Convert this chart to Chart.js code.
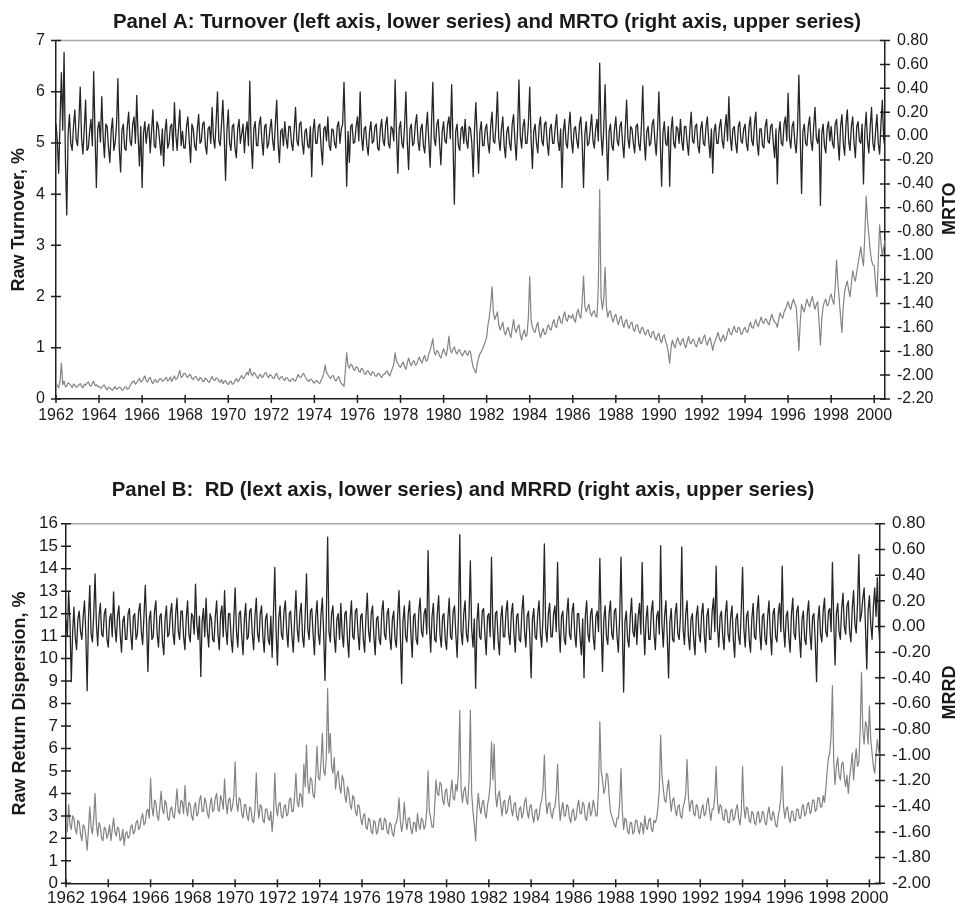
<!DOCTYPE html>
<html><head><meta charset="utf-8">
<script src="https://cdn.jsdelivr.net/npm/chart.js@4.4.1/dist/chart.umd.min.js"></script>
<style>
html,body{margin:0;padding:0;background:#fff;overflow:hidden;width:956px;height:908px;position:relative;}
canvas{position:absolute;}
#cA{top:0;left:0;} #cB{top:450px;left:-34px;}
</style></head><body>
<canvas id="cA" width="974" height="440"></canvas>
<canvas id="cB" width="994" height="458"></canvas>
<script>
// ---- data (16 readings per year, 1962.0 .. 2000.5) ----
const START_YEAR = 1962;
const PER_YEAR = 16;
const yearTicks = [1962,1964,1966,1968,1970,1972,1974,1976,1978,1980,1982,1984,1986,1988,1990,1992,1994,1996,1998,2000];

// Panel A upper series: MRTO (right axis)
const mrto = [
 0.10,-0.04,-0.31,0.12,0.53,0.05,0.70,-0.20,-0.66,0.02,0.18,-0.06,-0.12,0.08,0.22,-0.03,
 -0.08,0.12,0.41,-0.02,-0.15,0.06,0.30,-0.12,-0.10,0.04,0.14,-0.08,0.54,0.02,-0.43,0.06,
 0.12,-0.05,0.33,0.00,-0.18,0.10,0.08,-0.10,-0.22,0.04,0.15,-0.12,-0.05,0.10,0.48,-0.10,
 -0.30,0.05,0.10,-0.10,-0.12,0.08,0.20,-0.04,-0.08,0.10,0.16,-0.06,0.34,0.00,-0.25,0.08,
 -0.43,0.02,0.12,-0.06,0.05,0.10,-0.14,0.04,0.22,-0.08,-0.10,0.12,0.08,-0.04,-0.16,0.06,
 -0.25,0.04,0.14,-0.10,-0.06,0.08,0.10,-0.12,0.28,0.02,-0.12,0.06,0.22,-0.08,0.04,-0.10,
 -0.10,0.08,0.16,-0.04,-0.22,0.10,0.06,-0.08,-0.12,0.06,0.18,-0.06,-0.04,0.10,0.12,-0.08,
 -0.15,0.06,0.08,-0.06,0.24,-0.02,-0.10,0.12,0.37,-0.04,-0.08,0.10,0.30,0.00,-0.37,0.04,
 0.22,-0.06,-0.12,0.08,0.10,-0.10,-0.18,0.06,0.14,-0.06,0.02,0.10,-0.14,0.04,0.12,-0.08,
 0.46,-0.04,-0.27,0.06,0.12,-0.08,-0.08,0.10,0.16,-0.04,-0.16,0.08,0.10,-0.10,-0.06,0.06,
 0.14,-0.04,-0.12,0.10,0.30,-0.06,-0.22,0.04,0.06,-0.08,0.12,-0.02,-0.10,0.08,0.08,-0.06,
 -0.12,0.06,0.24,-0.04,-0.08,0.10,0.12,-0.06,-0.15,0.04,0.06,-0.08,-0.10,0.08,-0.34,0.04,
 0.14,-0.06,-0.06,0.08,0.10,-0.10,-0.24,0.06,0.08,-0.04,0.16,-0.08,-0.12,0.06,0.05,-0.06,
 -0.10,0.08,0.12,-0.06,0.06,0.10,0.45,0.02,-0.42,0.04,-0.22,0.08,0.10,-0.06,-0.05,0.08,
 0.16,-0.04,0.37,0.00,-0.12,0.06,0.08,-0.08,-0.16,0.04,0.12,-0.06,-0.04,0.08,0.10,-0.10,
 -0.12,0.06,0.14,-0.04,-0.08,0.10,0.16,-0.06,-0.10,0.08,0.06,-0.04,0.47,0.02,-0.31,0.06,
 0.12,-0.06,-0.10,0.08,0.37,-0.04,-0.28,0.06,0.10,-0.08,-0.06,0.10,0.18,-0.04,-0.12,0.06,
 0.10,-0.08,-0.14,0.06,0.20,-0.04,-0.26,0.08,0.45,-0.02,-0.08,0.10,0.14,-0.06,-0.24,0.04,
 0.12,-0.04,-0.06,0.10,0.16,-0.02,0.43,-0.06,-0.57,0.04,0.10,-0.08,-0.12,0.06,0.08,-0.06,
 0.14,-0.04,-0.10,0.08,0.06,-0.06,-0.34,0.06,0.28,-0.02,-0.31,0.04,0.12,-0.08,-0.08,0.06,
 0.10,-0.06,-0.14,0.08,0.20,-0.04,-0.06,0.10,0.37,-0.02,-0.12,0.06,0.16,-0.08,-0.18,0.04,
 0.08,-0.06,-0.12,0.10,0.18,-0.04,-0.20,0.06,0.47,0.00,-0.10,0.08,0.14,-0.06,-0.06,0.10,
 0.41,-0.02,-0.27,0.04,0.10,-0.06,-0.14,0.08,0.16,-0.04,-0.08,0.10,0.12,-0.06,-0.16,0.06,
 0.10,-0.06,-0.06,0.08,0.18,-0.04,-0.12,0.06,-0.43,0.04,0.14,-0.06,-0.10,0.08,0.20,-0.04,
 -0.14,0.06,0.08,-0.04,-0.10,0.10,0.16,-0.06,-0.43,0.02,0.12,-0.08,-0.06,0.06,0.18,-0.04,
 -0.10,0.06,0.14,-0.04,0.61,0.02,-0.16,0.06,0.43,0.00,-0.37,0.04,0.10,-0.08,-0.12,0.06,
 0.16,-0.04,-0.08,0.08,0.12,-0.06,-0.18,0.06,0.30,-0.02,-0.10,0.08,0.06,-0.06,-0.14,0.08,
 0.10,-0.06,-0.12,0.08,0.42,-0.02,-0.20,0.04,0.08,-0.08,-0.06,0.10,0.14,-0.04,-0.16,0.06,
 0.37,-0.04,-0.42,0.02,0.12,-0.06,-0.08,0.08,-0.42,0.04,0.16,-0.06,-0.10,0.08,0.06,-0.06,
 0.14,-0.04,-0.12,0.08,0.08,-0.06,-0.16,0.06,0.20,-0.04,-0.06,0.08,0.10,-0.08,-0.14,0.06,
 0.12,-0.06,-0.08,0.08,0.16,-0.04,-0.18,0.06,-0.31,0.04,0.10,-0.06,-0.06,0.08,0.14,-0.04,
 -0.10,0.06,0.18,-0.04,0.33,0.00,-0.12,0.06,0.08,-0.06,-0.14,0.08,0.12,-0.04,-0.06,0.06,
 0.10,-0.06,-0.12,0.08,0.16,-0.04,-0.08,0.10,0.20,-0.06,-0.16,0.06,0.06,-0.08,-0.10,0.08,
 0.14,-0.04,-0.06,0.08,0.10,-0.06,-0.18,0.06,-0.40,0.02,0.12,-0.06,-0.08,0.10,0.16,-0.04,
 0.36,-0.02,-0.10,0.08,0.12,-0.06,-0.14,0.06,0.51,0.00,-0.48,0.04,0.10,-0.06,-0.08,0.08,
 0.16,-0.04,-0.12,0.08,0.24,-0.02,-0.06,0.06,-0.58,0.02,0.10,-0.08,-0.14,0.06,0.12,-0.04,
 0.08,-0.06,-0.10,0.10,0.14,-0.04,-0.20,0.08,0.18,-0.06,-0.16,0.10,0.22,-0.04,-0.12,0.08,
 0.16,-0.06,-0.18,0.08,0.12,-0.04,-0.06,0.10,-0.40,0.04,0.20,-0.04,-0.14,0.08,0.24,-0.06,
 -0.12,0.04,0.18,-0.06,-0.15,0.10,0.30,-0.02,-0.10
];

// Panel A lower series: raw turnover, % (left axis)
const turnover = [
 0.30,0.26,0.22,0.35,0.70,0.28,0.35,0.24,0.25,0.32,0.30,0.26,0.22,0.29,0.27,0.23,
 0.24,0.28,0.30,0.25,0.22,0.29,0.27,0.31,0.33,0.27,0.25,0.31,0.35,0.26,0.28,0.24,
 0.25,0.21,0.22,0.26,0.27,0.21,0.18,0.23,0.22,0.19,0.17,0.21,0.24,0.19,0.20,0.23,
 0.22,0.17,0.18,0.23,0.24,0.19,0.20,0.26,0.30,0.34,0.35,0.29,0.32,0.37,0.40,0.33,
 0.35,0.40,0.45,0.36,0.33,0.40,0.42,0.34,0.30,0.36,0.38,0.32,0.34,0.39,0.40,0.35,
 0.36,0.40,0.42,0.35,0.38,0.43,0.34,0.40,0.45,0.38,0.40,0.47,0.56,0.42,0.44,0.50,
 0.50,0.44,0.42,0.48,0.47,0.40,0.38,0.43,0.44,0.39,0.36,0.42,0.40,0.34,0.35,0.41,
 0.38,0.34,0.32,0.39,0.44,0.37,0.36,0.41,0.40,0.35,0.33,0.38,0.30,0.34,0.36,0.31,
 0.28,0.33,0.35,0.29,0.30,0.36,0.40,0.34,0.36,0.42,0.46,0.40,0.42,0.48,0.52,0.47,
 0.60,0.50,0.45,0.52,0.50,0.44,0.40,0.46,0.48,0.42,0.44,0.50,0.52,0.45,0.42,0.48,
 0.46,0.41,0.40,0.47,0.50,0.42,0.38,0.43,0.44,0.39,0.36,0.42,0.41,0.36,0.34,0.39,
 0.40,0.36,0.35,0.42,0.48,0.43,0.42,0.47,0.50,0.44,0.40,0.36,0.34,0.39,0.38,0.33,
 0.31,0.35,0.36,0.32,0.30,0.37,0.42,0.50,0.66,0.52,0.48,0.43,0.40,0.45,0.46,0.39,
 0.35,0.40,0.44,0.36,0.30,0.28,0.24,0.55,0.90,0.65,0.60,0.68,0.66,0.58,0.56,0.63,
 0.62,0.55,0.52,0.60,0.58,0.50,0.48,0.54,0.55,0.49,0.46,0.53,0.52,0.46,0.44,0.49,
 0.50,0.45,0.42,0.47,0.48,0.52,0.55,0.49,0.45,0.53,0.60,0.68,0.90,0.74,0.70,0.64,
 0.62,0.68,0.72,0.63,0.58,0.70,0.80,0.71,0.65,0.72,0.75,0.66,0.68,0.76,0.82,0.74,
 0.70,0.80,0.85,0.74,0.76,0.88,0.95,1.05,1.18,0.92,0.86,0.95,0.92,0.84,0.80,0.90,
 0.98,0.90,0.85,1.00,1.23,0.96,0.90,0.97,1.02,0.92,0.88,0.95,0.96,0.88,0.84,0.90,
 0.95,0.88,0.85,0.94,0.92,0.75,0.62,0.56,0.51,0.68,0.80,0.88,0.92,0.98,1.05,1.12,
 1.20,1.45,1.60,1.85,2.19,1.70,1.55,1.62,1.70,1.45,1.35,1.42,1.50,1.32,1.25,1.35,
 1.40,1.28,1.20,1.38,1.55,1.36,1.30,1.40,1.45,1.25,1.15,1.28,1.35,1.22,1.25,1.60,
 2.39,1.55,1.40,1.33,1.30,1.42,1.50,1.32,1.20,1.30,1.38,1.26,1.28,1.40,1.45,1.36,
 1.35,1.48,1.55,1.42,1.40,1.55,1.62,1.50,1.48,1.62,1.70,1.55,1.52,1.64,1.60,1.58,
 1.65,1.55,1.50,1.68,1.75,1.62,1.58,1.90,2.40,1.80,1.70,1.78,1.85,1.68,1.62,1.70,
 1.72,1.62,1.60,2.20,4.09,2.00,1.75,1.95,2.57,1.80,1.60,1.70,1.72,1.58,1.50,1.62,
 1.65,1.52,1.45,1.58,1.62,1.48,1.40,1.52,1.55,1.42,1.38,1.48,1.50,1.36,1.32,1.44,
 1.45,1.34,1.28,1.38,1.40,1.30,1.25,1.33,1.35,1.24,1.20,1.30,1.32,1.20,1.15,1.24,
 1.28,1.15,1.10,1.22,1.25,1.12,1.05,0.90,0.70,1.00,1.15,1.06,1.00,1.12,1.20,1.10,
 1.05,1.14,1.18,1.06,1.00,1.12,1.22,1.10,1.08,1.16,1.15,1.05,1.02,1.12,1.20,1.08,
 1.10,1.20,1.25,1.12,1.05,1.15,1.20,1.08,0.95,1.08,1.15,1.22,1.30,1.18,1.12,1.20,
 1.25,1.14,1.18,1.30,1.38,1.28,1.25,1.36,1.42,1.32,1.30,1.40,1.38,1.26,1.28,1.36,
 1.40,1.32,1.30,1.42,1.50,1.40,1.38,1.48,1.55,1.45,1.42,1.52,1.60,1.50,1.48,1.56,
 1.55,1.48,1.45,1.58,1.65,1.55,1.50,1.48,1.40,1.55,1.68,1.62,1.58,1.70,1.75,1.82,
 1.90,1.80,1.75,1.88,1.95,1.85,1.80,1.40,0.95,1.50,1.85,1.76,1.70,1.84,1.95,1.86,
 1.80,1.92,2.00,1.85,1.75,1.85,1.90,1.50,1.05,1.55,1.80,1.90,1.95,1.82,1.85,1.98,
 2.05,1.92,1.85,2.20,2.71,2.25,1.95,1.60,1.30,1.80,2.10,2.22,2.30,2.12,2.00,2.25,
 2.50,2.38,2.30,2.48,2.65,2.80,2.97,2.75,2.60,3.20,3.96,3.50,3.20,2.90,2.70,2.62,
 2.60,2.25,2.00,2.70,3.40,3.05,2.80,2.95,3.10
];

// Panel B upper series: MRRD (right axis)
const mrrd = [
 0.05,-0.08,0.27,0.04,-0.43,-0.05,0.15,-0.08,-0.18,0.06,0.12,-0.04,-0.10,0.08,0.20,-0.06,
 -0.50,0.06,0.32,-0.06,-0.12,0.10,0.41,0.02,-0.15,0.08,0.18,-0.06,-0.08,0.10,0.14,-0.10,
 -0.16,0.06,0.10,-0.08,0.27,0.00,-0.12,0.08,0.16,-0.06,-0.20,0.04,0.08,-0.10,-0.10,0.10,
 0.14,-0.06,-0.18,0.08,0.10,-0.10,-0.06,0.12,0.18,-0.04,-0.14,0.08,0.32,0.02,-0.35,0.06,
 0.12,-0.10,-0.08,0.12,0.20,-0.06,-0.16,0.08,0.10,-0.12,-0.22,0.06,0.16,-0.08,-0.06,0.10,
 0.18,-0.06,-0.14,0.10,0.22,-0.04,-0.10,0.12,0.12,-0.08,-0.18,0.06,0.20,-0.06,-0.12,0.10,
 0.08,-0.06,0.33,0.02,-0.10,0.08,-0.39,0.04,0.14,-0.08,0.22,-0.04,-0.16,0.10,0.06,-0.10,
 -0.12,0.08,0.20,-0.06,-0.18,0.10,0.16,-0.08,0.28,-0.02,-0.14,0.10,0.10,-0.10,-0.20,0.06,
 0.30,-0.04,-0.16,0.10,0.12,-0.08,-0.22,0.06,0.18,-0.10,-0.08,0.12,0.14,-0.06,-0.18,0.08,
 0.22,-0.06,-0.12,0.10,0.16,-0.08,-0.20,0.06,0.10,-0.10,-0.14,0.08,-0.24,0.10,0.46,-0.04,
 -0.30,0.06,0.16,-0.06,-0.10,0.12,0.20,-0.04,-0.16,0.10,0.12,-0.08,-0.20,0.06,0.28,-0.02,
 -0.12,0.10,0.18,-0.08,-0.16,0.08,0.41,-0.02,-0.10,0.12,0.14,-0.06,-0.22,0.08,0.20,-0.06,
 -0.14,0.10,0.22,-0.06,-0.42,0.06,0.695,-0.04,-0.12,0.10,0.16,-0.08,-0.20,0.06,0.10,-0.10,
 0.18,-0.06,-0.16,0.10,0.12,-0.10,-0.24,0.06,0.20,-0.08,-0.10,0.12,0.14,-0.06,-0.18,0.08,
 0.10,-0.10,-0.20,0.08,0.26,-0.04,-0.12,0.10,0.16,-0.08,-0.22,0.06,0.08,-0.10,-0.14,0.12,
 0.20,-0.06,-0.10,0.10,0.14,-0.08,-0.18,0.06,0.12,-0.10,-0.16,0.08,0.28,-0.06,-0.445,0.04,
 0.16,-0.08,-0.12,0.10,0.20,-0.06,-0.24,0.08,0.10,-0.10,-0.14,0.12,0.22,-0.04,-0.08,0.10,
 0.14,-0.06,0.59,0.00,-0.20,0.08,0.18,-0.10,-0.12,0.10,0.24,-0.06,-0.16,0.08,0.10,-0.10,
 -0.18,0.06,0.22,-0.08,-0.10,0.12,0.16,-0.06,-0.24,0.08,0.716,-0.04,-0.14,0.10,0.20,-0.06,
 -0.12,0.08,0.51,-0.02,-0.16,0.06,-0.48,0.04,0.18,-0.08,-0.10,0.12,0.14,-0.06,-0.22,0.08,
 0.10,-0.08,0.54,0.00,-0.18,0.10,0.12,-0.10,-0.22,0.06,0.16,-0.08,-0.08,0.12,0.20,-0.06,
 -0.14,0.10,0.18,-0.06,-0.20,0.08,0.10,-0.10,-0.12,0.12,0.24,-0.04,-0.16,0.08,0.12,-0.08,
 -0.40,0.06,0.14,-0.08,-0.10,0.10,0.20,-0.06,-0.16,0.08,0.644,-0.02,-0.12,0.10,0.18,-0.08,
 -0.08,0.10,0.16,-0.04,0.50,0.00,-0.20,0.08,0.12,-0.10,-0.14,0.10,0.22,-0.06,-0.10,0.12,
 0.18,-0.06,-0.16,0.10,0.10,-0.08,-0.22,0.06,-0.40,0.08,0.20,-0.06,-0.12,0.10,0.14,-0.08,
 -0.18,0.08,0.12,-0.04,0.53,0.02,-0.35,0.06,0.16,-0.08,-0.14,0.10,0.20,-0.06,-0.10,0.12,
 0.14,-0.08,-0.20,0.08,0.54,0.00,-0.51,0.04,0.12,-0.10,-0.16,0.08,0.22,-0.04,-0.08,0.10,
 -0.14,0.08,0.18,-0.06,0.50,0.02,-0.22,0.06,0.16,-0.10,-0.10,0.12,0.20,-0.06,-0.18,0.08,
 0.12,-0.06,0.63,0.02,-0.16,0.08,0.20,-0.08,-0.40,0.04,0.14,-0.10,-0.12,0.10,0.18,-0.06,
 -0.10,0.08,0.62,-0.02,-0.14,0.10,0.20,-0.08,-0.18,0.06,0.10,-0.10,-0.22,0.08,0.16,-0.06,
 -0.12,0.10,0.18,-0.06,-0.20,0.08,0.14,-0.10,-0.10,0.12,0.22,-0.04,0.47,0.00,-0.16,0.08,
 0.12,-0.08,-0.18,0.10,0.20,-0.06,-0.12,0.08,0.16,-0.10,-0.24,0.06,0.10,-0.08,-0.14,0.12,
 0.46,-0.02,-0.16,0.08,0.12,-0.10,-0.20,0.06,0.18,-0.08,-0.10,0.12,0.24,-0.04,-0.18,0.08,
 0.10,-0.10,-0.14,0.08,0.20,-0.06,-0.22,0.10,0.14,-0.08,-0.12,0.10,0.18,-0.04,0.47,0.00,
 -0.16,0.08,0.12,-0.08,-0.20,0.10,0.22,-0.06,-0.10,0.12,0.16,-0.08,-0.24,0.06,0.12,-0.10,
 -0.14,0.10,0.20,-0.06,-0.18,0.08,0.10,-0.12,-0.43,0.04,0.16,-0.06,-0.12,0.12,0.22,-0.04,
 -0.08,0.12,0.14,-0.04,0.50,0.04,-0.30,0.10,0.18,-0.04,-0.10,0.14,0.26,0.00,-0.06,0.16,
 0.20,-0.04,-0.12,0.14,0.28,0.02,-0.05,0.18,0.56,0.04,0.10,0.22,0.30,0.00,-0.33,0.12,
 0.24,0.02,-0.10,0.16,0.30,0.08,0.38,0.00,-0.15
];

// Panel B lower series: raw return dispersion, % (left axis)
const rd = [
 2.70,2.30,3.50,2.60,2.40,3.00,2.90,2.40,2.20,2.80,2.70,2.20,1.90,2.60,2.50,2.10,
 1.48,2.40,3.40,2.50,2.20,2.90,4.00,2.60,2.10,2.70,2.50,2.00,1.90,2.50,2.40,2.00,
 2.20,2.60,1.90,2.40,2.90,2.30,2.10,2.50,2.40,1.90,2.00,2.40,1.70,2.20,2.30,2.00,
 2.10,2.50,2.60,2.20,2.30,2.70,2.80,2.40,2.50,2.90,3.10,2.60,2.70,3.20,3.30,2.90,
 4.67,3.40,3.00,3.70,3.60,3.00,2.80,3.40,4.10,3.30,3.10,3.70,3.50,2.90,2.80,3.30,
 3.40,3.00,2.90,3.50,4.20,3.20,3.10,3.70,3.60,3.10,4.35,3.40,3.00,3.60,3.50,3.00,
 2.80,3.40,3.60,3.00,3.10,3.70,3.90,3.20,3.20,3.80,3.60,3.10,2.90,3.50,3.80,3.20,
 3.30,3.80,4.00,3.30,3.20,3.90,3.70,3.30,4.65,3.60,3.10,3.70,3.80,3.20,3.40,3.90,
 5.40,3.60,3.20,3.80,3.70,3.10,2.90,3.50,3.50,3.00,2.80,3.40,3.30,2.80,2.70,3.30,
 4.90,3.40,2.90,3.50,3.40,2.80,2.70,3.30,3.30,2.90,2.80,3.20,2.30,3.00,4.90,3.40,
 3.00,3.50,3.60,3.00,2.90,3.40,3.50,3.00,3.10,3.70,3.80,3.20,3.20,3.90,4.90,3.60,
 3.40,4.00,3.90,3.40,5.30,4.30,6.15,4.40,4.00,4.70,4.60,3.90,3.80,4.80,6.10,4.70,
 4.60,5.40,6.67,5.00,4.80,5.60,8.67,5.80,6.67,5.20,4.90,5.60,4.20,4.80,5.00,4.30,
 4.00,4.80,4.60,3.90,3.60,4.30,4.10,3.50,3.30,3.90,3.80,3.20,3.00,3.50,3.40,2.90,
 2.60,3.00,3.10,2.50,2.40,2.90,2.80,2.30,2.20,2.80,2.70,2.20,2.30,2.80,2.90,2.40,
 2.40,2.90,2.80,2.30,2.20,2.70,2.60,2.20,2.10,2.60,2.70,3.00,3.80,2.80,2.30,2.70,
 3.60,2.80,2.40,2.90,2.90,2.40,2.20,2.70,2.70,2.30,3.10,2.60,2.40,2.90,2.80,2.40,
 2.60,3.20,5.00,3.20,2.90,2.50,2.50,3.40,4.60,4.00,3.90,4.50,4.40,3.70,3.50,4.10,
 4.20,3.60,3.40,4.00,4.60,3.80,3.70,4.40,4.10,5.00,7.70,4.20,3.60,4.10,4.30,3.70,
 3.50,4.60,7.70,4.00,3.20,2.60,1.90,3.20,4.00,3.40,3.10,3.60,3.70,3.10,2.90,3.50,
 3.80,4.40,6.30,4.60,6.20,4.00,3.40,3.90,4.10,3.50,3.00,3.60,3.70,3.10,3.20,3.70,
 3.90,3.30,3.00,3.50,3.60,3.00,2.80,3.30,3.40,2.90,3.10,3.60,3.80,3.20,2.90,3.40,
 3.50,3.00,2.70,3.20,3.30,2.80,3.00,3.50,3.70,4.20,5.70,3.80,3.10,3.50,3.60,3.10,
 2.90,3.30,3.40,4.00,5.30,3.60,2.80,3.30,3.60,3.00,3.00,3.50,3.40,2.90,2.70,3.20,
 3.30,2.80,2.90,3.40,3.70,3.10,3.10,3.60,3.50,2.90,2.80,3.30,3.60,3.00,3.20,3.70,
 3.40,3.00,3.00,4.20,7.20,5.00,4.60,4.00,4.20,4.90,4.80,3.90,3.20,3.00,2.80,2.60,
 2.50,2.90,2.90,3.60,5.10,3.20,2.40,2.90,2.80,2.30,2.20,2.70,2.70,2.20,2.30,2.80,
 2.80,2.40,2.20,2.70,2.60,2.20,3.00,2.50,2.40,2.80,2.90,2.40,2.30,2.80,2.70,2.90,
 3.40,4.20,6.60,4.80,4.20,3.70,3.60,4.20,4.60,3.80,3.20,3.70,3.80,3.30,3.00,3.40,
 3.50,3.00,2.90,3.40,3.60,4.00,5.50,3.90,3.20,3.60,3.70,3.10,3.00,3.50,3.40,2.90,
 2.90,3.30,3.50,3.00,3.10,3.60,3.80,3.20,2.80,3.30,3.30,3.90,5.20,3.60,3.10,3.50,
 3.40,2.90,2.80,3.30,3.20,2.70,2.70,3.20,3.30,2.80,2.90,3.30,3.50,2.90,2.60,3.10,
 5.20,3.40,2.90,3.40,3.30,2.80,2.70,3.20,3.10,2.70,2.60,3.10,3.20,2.70,2.80,3.20,
 3.10,2.70,2.60,3.10,3.40,2.90,2.80,3.20,3.00,2.60,2.50,3.00,3.30,3.80,5.20,3.40,
 2.90,3.30,3.40,2.90,2.70,3.20,3.20,2.80,2.80,3.30,3.30,2.90,2.90,3.40,3.50,3.00,
 3.10,3.50,3.60,3.10,3.20,3.70,3.70,3.20,3.30,3.80,3.80,3.40,3.40,3.90,3.60,4.20,
 5.00,5.60,5.80,6.60,8.80,5.40,4.40,5.20,5.60,4.80,4.60,5.30,5.40,4.70,4.30,4.80,
 4.00,4.70,5.20,5.80,4.60,5.40,6.00,5.20,5.40,6.80,9.40,6.80,6.20,7.20,7.00,6.20,
 7.90,6.40,5.80,5.20,4.90,5.70,6.40,5.90,5.60
];

const TITLE_A = 'Panel A: Turnover (left axis, lower series) and MRTO (right axis, upper series)';
const TITLE_B = 'Panel B:  RD (lext axis, lower series) and MRRD (right axis, upper series)';

// ---- rendering ----
const FONT = "'Liberation Sans', Arial, Helvetica, sans-serif";
Chart.defaults.font.family = FONT;
Chart.defaults.color = '#1a1a1a';
const DARK = '#262626', GREY = '#838383', AXIS = '#1e1e1e';

const toPts = arr => arr.map((v, i) => ({x: START_YEAR + i / PER_YEAR, y: v}));
const fmt2 = v => (Math.abs(v) < 1e-9 ? 0 : v).toFixed(2);

const frame = {
  id: 'frame',
  afterDraw(chart, args, o) {
    const {ctx, chartArea: a} = chart;
    ctx.save();
    ctx.strokeStyle = '#a8a8a8'; ctx.lineWidth = 1.5;
    ctx.beginPath(); ctx.moveTo(a.left, a.top); ctx.lineTo(a.right, a.top); ctx.stroke();
    ctx.strokeStyle = AXIS; ctx.lineWidth = 1.5;
    ctx.beginPath();
    for (const s of Object.values(chart.scales)) {
      for (const t of s.ticks) {
        const p = s.getPixelForValue(t.value);
        if (s.isHorizontal()) { ctx.moveTo(p, a.bottom - 4); ctx.lineTo(p, a.bottom + 4); }
        else { const x = s.position === 'left' ? a.left : a.right; ctx.moveTo(x - 5, p); ctx.lineTo(x + 5, p); }
      }
    }
    ctx.stroke();
    ctx.translate(o.titleX, (a.top + a.bottom) / 2 + o.dy);
    ctx.rotate(-Math.PI / 2);
    ctx.font = 'bold 18px ' + FONT;
    ctx.fillStyle = '#1a1a1a';
    ctx.textAlign = 'center'; ctx.textBaseline = 'middle';
    ctx.fillText(o.text, 0, 0);
    ctx.restore();
  }
};

function lineDs(label, arr, axis, color, w) {
  return {label, data: toPts(arr), yAxisID: axis, borderColor: color, borderWidth: w,
          pointRadius: 0, tension: 0, fill: false, borderJoinStyle: 'round'};
}

function makePanel(canvasId, p) {
  const tickFont = {size: p.tickSize};
  const noGrid = {display: false, drawTicks: false};
  const border = {display: true, color: AXIS, width: 1.5};
  return new Chart(document.getElementById(canvasId), {
    type: 'line',
    data: {datasets: [lineDs(p.upperLabel, p.upper, 'y1', DARK, 1.3), lineDs(p.lowerLabel, p.lower, 'y', GREY, 1.2)]},
    options: {
      responsive: false, animation: false, devicePixelRatio: 1,
      layout: {padding: 0},
      plugins: {
        legend: {display: false}, tooltip: {enabled: false},
        title: {display: true, text: p.title, font: {size: 20.4, weight: 'bold'}, color: '#1a1a1a',
                padding: {top: p.titleTop, bottom: p.titleBottom}},
        frame: {text: p.rightTitle, titleX: p.rightTitleX, dy: -11}
      },
      scales: {
        x: {type: 'linear', position: 'bottom', min: 1962, max: 2000.5,
            afterBuildTicks: s => { s.ticks = yearTicks.map(v => ({value: v})); },
            ticks: {autoSkip: false, maxRotation: 0, font: tickFont, padding: p.xPad, callback: v => String(v)},
            grid: noGrid, border, afterFit: s => { s.height = p.xHeight; }},
        y: {position: 'left', min: p.leftMin, max: p.leftMax,
            ticks: {stepSize: 1, autoSkip: false, font: tickFont, padding: p.leftPad},
            grid: noGrid, border,
            title: {display: true, text: p.leftTitle, font: {size: 18, weight: 'bold'}, color: '#1a1a1a',
                    padding: {top: p.leftTitlePad, bottom: 0}},
            afterFit: s => { s.width = p.leftWidth; }},
        y1: {position: 'right', min: p.rightMin, max: p.rightMax,
             ticks: {stepSize: 0.2, autoSkip: false, font: tickFont, padding: 12, callback: fmt2},
             grid: noGrid, border, afterFit: s => { s.width = p.rightWidth; }}
      }
    },
    plugins: [frame]
  });
}

// canvas A: page x 0..974 (title centred at 487)
makePanel('cA', {
  title: TITLE_A, titleTop: 10, titleBottom: 6,
  upper: mrto, upperLabel: 'MRTO', lower: turnover, lowerLabel: 'Raw Turnover, %',
  leftTitle: 'Raw Turnover, %', rightTitle: 'MRTO', rightTitleX: 950, leftTitlePad: 8,
  leftMin: 0, leftMax: 7, rightMin: -2.2, rightMax: 0.8,
  tickSize: 16, xPad: 7, xHeight: 41, leftPad: 11, leftWidth: 56, rightWidth: 89
});

// canvas B: page x -34..960 (title centred at 463)
makePanel('cB', {
  title: TITLE_B, titleTop: 28, titleBottom: 21.3,
  upper: mrrd, upperLabel: 'MRRD', lower: rd, lowerLabel: 'Raw Return Dispersion, %',
  leftTitle: 'Raw Return Dispersion, %', rightTitle: 'MRRD', rightTitleX: 984, leftTitlePad: 43.7,
  leftMin: 0, leftMax: 16, rightMin: -2.0, rightMax: 0.8,
  tickSize: 17, xPad: 5, xHeight: 24.7, leftPad: 8, leftWidth: 100, rightWidth: 80
});
</script>
</body></html>
